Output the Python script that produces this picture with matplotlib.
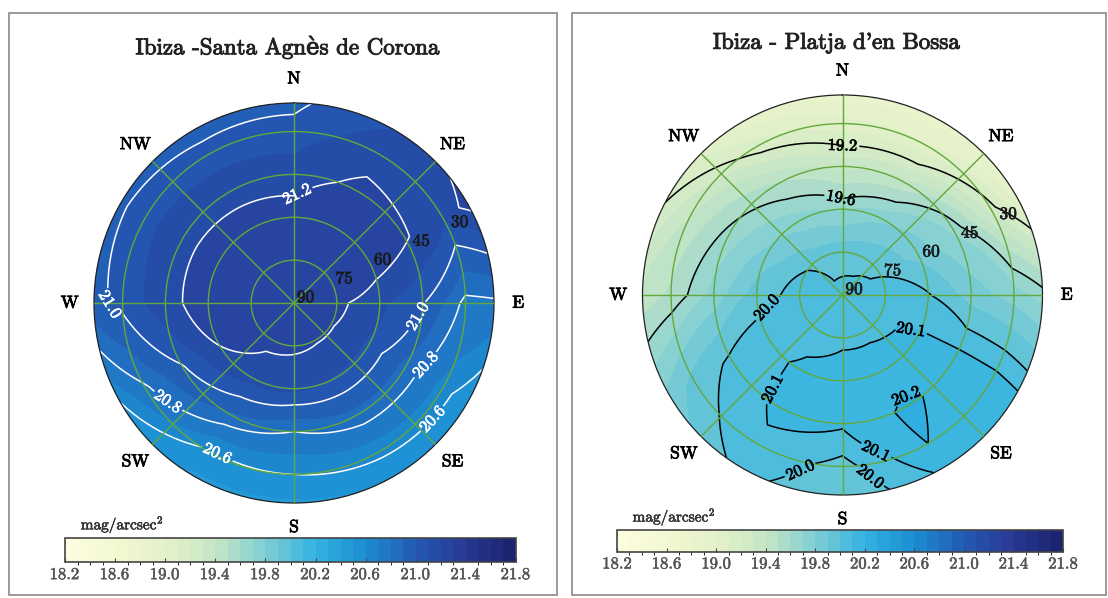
import numpy as np
import matplotlib
matplotlib.use("Agg")
import matplotlib.pyplot as plt
import matplotlib.patheffects as pe
from matplotlib.colors import LinearSegmentedColormap, BoundaryNorm
from matplotlib.patches import Rectangle

plt.rcParams['font.family'] = ['cmr10', 'DejaVu Serif']
plt.rcParams['mathtext.fontset'] = 'cm'
plt.rcParams['axes.unicode_minus'] = False
plt.rcParams['axes.formatter.use_mathtext'] = True

# measurement grid: azimuth (deg, from N through E) x altitude (deg)
azimuths = [0, 30, 60, 90, 120, 150, 180, 210, 240, 270, 300, 330]
altitudes = [90, 75, 60, 45, 30, 20]

# sky brightness, mag/arcsec^2, one row per altitude
santa_agnes = [
    [21.28, 21.28, 21.28, 21.28, 21.28, 21.28, 21.28, 21.28, 21.28, 21.28, 21.28, 21.28],
    [21.28, 21.30, 21.30, 21.23, 21.21, 21.21, 21.22, 21.23, 21.26, 21.27, 21.27, 21.28],
    [21.24, 21.27, 21.27, 21.12, 21.08, 21.09, 21.12, 21.13, 21.20, 21.26, 21.25, 21.24],
    [21.16, 21.22, 21.21, 21.01, 20.86, 20.86, 20.80, 20.88, 20.99, 21.16, 21.17, 21.17],
    [21.03, 21.17, 21.12, 20.77, 20.66, 20.63, 20.60, 20.58, 20.78, 21.03, 21.06, 21.04],
    [20.98, 21.10, 21.24, 20.78, 20.50, 20.50, 20.48, 20.48, 20.60, 20.97, 20.98, 20.96],
]

platja_bossa = [
    [20.03, 20.03, 20.03, 20.03, 20.03, 20.03, 20.03, 20.03, 20.03, 20.03, 20.03, 20.03],
    [19.96, 19.97, 19.99, 20.05, 20.08, 20.08, 20.08, 20.06, 20.05, 20.04, 20.01, 19.95],
    [19.68, 19.78, 19.85, 20.01, 20.12, 20.15, 20.15, 20.12, 20.05, 19.95, 19.82, 19.74],
    [19.36, 19.42, 19.68, 19.85, 20.15, 20.22, 20.12, 20.12, 20.02, 19.73, 19.63, 19.50],
    [19.03, 19.00, 19.25, 19.75, 20.15, 20.20, 19.96, 20.08, 19.93, 19.52, 19.38, 19.14],
    [18.85, 18.85, 18.95, 19.65, 20.12, 20.12, 19.90, 20.04, 19.82, 19.42, 19.18, 18.95],
]

titles = ["Ibiza -Santa Agnès de Corona", "Ibiza - Platja d'en Bossa"]
line_levels = [[20.6, 20.8, 21.0, 21.2], [19.2, 19.6, 20.0, 20.1, 20.2]]
line_colors = ["white", "black"]

# where the contour labels sit: (azimuth, zenith distance) in degrees
label_spots = [
    [(0, 40), (268, 66), (97, 45), (232, 56), (117, 56), (207, 61), (130, 65)],
    [(0, 51), (0, 36), (258, 26), (118, 27), (224, 42), (148, 42), (168, 56), (196, 60), (172, 65)],
]

ring_altitudes = [90, 75, 60, 45, 30]
compass = ["N", "NE", "E", "SE", "S", "SW", "W", "NW"]
cbar_ticks = [18.2, 18.6, 19.0, 19.4, 19.8, 20.2, 20.6, 21.0, 21.4, 21.8]

cmap = LinearSegmentedColormap.from_list("sqm", [
    (0.000, (252/255, 252/255, 222/255)),
    (0.111, (242/255, 247/255, 208/255)),
    (0.222, (226/255, 241/255, 200/255)),
    (0.333, (196/255, 229/255, 197/255)),
    (0.444, (125/255, 205/255, 212/255)),
    (0.556, (50/255, 178/255, 225/255)),
    (0.667, (28/255, 142/255, 210/255)),
    (0.778, (35/255, 92/255, 182/255)),
    (0.889, (40/255, 58/255, 150/255)),
    (1.000, (28/255, 36/255, 112/255)),
])
fill_levels = np.round(np.arange(18.2, 21.81, 0.1), 2)
norm = BoundaryNorm(fill_levels, cmap.N)
grid_green = "#63a83c"


def heavy(color, w=0.7):
    # the scanned original has slightly bolder lettering than cmr10
    return [pe.withStroke(linewidth=w, foreground=color)]


W, H = 1108, 598
fig = plt.figure(figsize=(W / 100, H / 100), dpi=100)

# panel frames
for x0, x1 in [(9, 557), (572, 1106)]:
    fig.add_artist(Rectangle((x0 / W, 1 - 595 / H), (x1 - x0) / W, (595 - 13) / H,
                             transform=fig.transFigure, fill=False,
                             edgecolor="#8a8a8a", linewidth=1.2))

centers = [(294, 303), (842.5, 295)]
title_pos = [(287, 47), (836, 43)]
cbar_boxes = [(65, 538, 516, 562), (617, 530, 1063, 552)]
radius = 200

theta = np.deg2rad(np.append(azimuths, 360))
zen = 90 - np.array(altitudes)
T, R = np.meshgrid(theta, zen)

for i, data in enumerate([santa_agnes, platja_bossa]):
    cx, cy = centers[i]
    ax = fig.add_axes([(cx - radius) / W, 1 - (cy + radius) / H, 2 * radius / W, 2 * radius / H],
                      projection="polar")
    ax.set_theta_zero_location("N")
    ax.set_theta_direction(-1)
    ax.set_rlim(0, 70)

    vals = np.array(data)
    vals = np.hstack([vals, vals[:, :1]])

    cf = ax.contourf(T, R, vals, levels=fill_levels, cmap=cmap, norm=norm)
    cf.set_edgecolor("face")
    cf.set_linewidth(0.4)
    for p in cf.get_paths():
        p._interpolation_steps = 16

    cs = ax.contour(T, R, vals, levels=line_levels[i], colors=line_colors[i], linewidths=1.1)
    # resample the (theta, r) segments so they bend with the polar grid
    cs.set_paths([p.interpolated(12) if len(p) else p for p in cs.get_paths()])
    spots = [(np.deg2rad(a), z) for a, z in label_spots[i]]
    lbls = ax.clabel(cs, fmt="%.1f", fontsize=12, inline=True, inline_spacing=2,
                     manual=spots)
    for t in lbls:
        t.set_path_effects(heavy(line_colors[i], 0.5))

    ax.set_rlim(0, 70)
    ax.set_rticks([15, 30, 45, 60])
    ax.set_xticks(np.deg2rad(np.arange(0, 360, 45)))
    ax.set_xticklabels([])
    ax.set_yticklabels([])
    ax.grid(True, color=grid_green, linewidth=1.0)
    ax.spines["polar"].set_linewidth(0.9)
    ax.spines["polar"].set_color("#222222")
    ax.set_axisbelow(False)

    for alt in ring_altitudes:
        ax.text(np.deg2rad(64), 90 - alt + 4.5, str(alt), fontsize=12.5,
                ha="center", va="center", color="#1a1a1a", path_effects=heavy("#1a1a1a", 0.5))
    for k, name in enumerate(compass):
        ax.text(np.deg2rad(45 * k), 78.5, name, fontsize=12.5, ha="center",
                va="center", clip_on=False, path_effects=heavy("black", 0.6))

    tx, ty = title_pos[i]
    fig.text(tx / W, 1 - ty / H, titles[i], fontsize=16.5, ha="center", va="center",
             color="#222222", path_effects=heavy("#222222", 0.7))

    x0, y0, x1, y1 = cbar_boxes[i]
    cax = fig.add_axes([x0 / W, 1 - y1 / H, (x1 - x0) / W, (y1 - y0) / H])
    cb = fig.colorbar(cf, cax=cax, orientation="horizontal", ticks=cbar_ticks)
    cb.ax.set_xticklabels([f"{t:.1f}" for t in cbar_ticks])
    cb.ax.tick_params(direction="in", length=3, width=0.8, labelsize=12,
                      labelcolor="#555555", color="#444444", pad=3)
    for t in cb.ax.get_xticklabels():
        t.set_path_effects(heavy("#555555", 0.4))
    cb.outline.set_linewidth(1.2)
    cb.outline.set_edgecolor("#444444")
    cax.text(0.035, 1.1, "mag/arcsec$^2$", transform=cax.transAxes, fontsize=11,
             ha="left", va="bottom", color="#333333", path_effects=heavy("#333333", 0.4))

fig.savefig("out.png", dpi=100, facecolor="white")
